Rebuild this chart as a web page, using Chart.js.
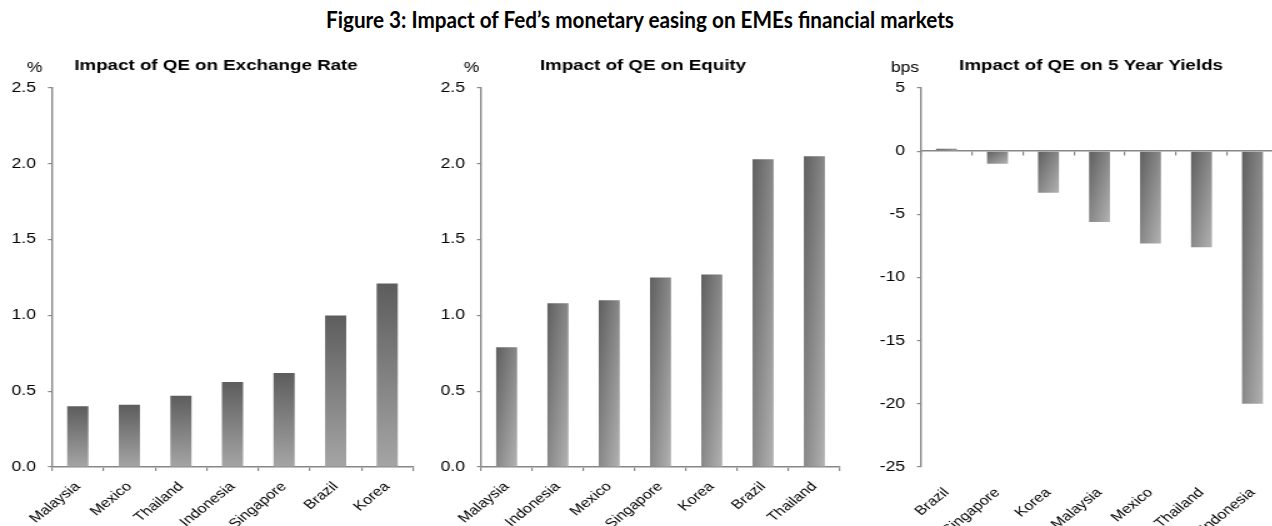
<!DOCTYPE html>
<html>
<head>
<meta charset="utf-8">
<script src="https://cdn.jsdelivr.net/npm/chart.js@4.4.1/dist/chart.umd.min.js"></script>
<style>
  body { margin: 0; width: 1272px; height: 526px; overflow: hidden; background: #fff; position: relative; }
  h1 {
    position: absolute; left: 640px; top: 5px; margin: 0; white-space: nowrap;
    transform: translateX(-50%) scaleX(0.9);
    font: bold 23px/28px Lato, 'Open Sans', sans-serif; color: #000;
  }
  /* the panels are laid out narrow and widened sideways */
  .panel { position: absolute; top: 0; transform-origin: 0 0; transform: scaleX(1.25); }
  .panel canvas { display: block; }
</style>
</head>
<body>
<h1>Figure 3: Impact of Fed’s monetary easing on EMEs financial markets</h1>
<div class="panel" style="left:0px"><canvas id="fxChart" width="336" height="526"></canvas></div>
<div class="panel" style="left:420px"><canvas id="equityChart" width="346" height="526"></canvas></div>
<div class="panel" style="left:840px"><canvas id="yieldChart" width="352" height="526"></canvas></div>
<script>
const fxCountries = ['Malaysia', 'Mexico', 'Thailand', 'Indonesia', 'Singapore', 'Brazil', 'Korea'];
const fxImpact = [0.40, 0.41, 0.47, 0.56, 0.62, 1.00, 1.21];

const equityCountries = ['Malaysia', 'Indonesia', 'Mexico', 'Singapore', 'Korea', 'Brazil', 'Thailand'];
const equityImpact = [0.79, 1.08, 1.10, 1.25, 1.27, 2.03, 2.05];

const yieldCountries = ['Brazil', 'Singapore', 'Korea', 'Malaysia', 'Mexico', 'Thailand', 'Indonesia'];
const yieldImpact = [0.2, -1.0, -3.3, -5.6, -7.3, -7.6, -20.0];

const pctTicks = [0, 0.5, 1.0, 1.5, 2.0, 2.5];
const bpsTicks = [-25, -20, -15, -10, -5, 0, 5];

const FONT = "'Liberation Sans', Arial, sans-serif";
const AXIS = '#878787';
const BAR_FRACTION = 0.41;

// grey fill per bar: 'vertical' = dark top to light bottom, 'diagonal' = dark top-left corner to light bottom-right
function shadeBars(direction) {
    return function(context) {
        const chart = context.chart;
        const xs = chart.scales.x;
        const ys = chart.scales.y;
        if (!chart.chartArea || !xs || !ys || typeof context.raw !== 'number') {
            return '#888888';
        }
        const half = xs.width / chart.data.labels.length * BAR_FRACTION / 2;
        const cx = xs.getPixelForValue(context.dataIndex);
        const left = cx - half;
        const yv = ys.getPixelForValue(context.raw);
        const y0 = ys.getPixelForValue(0);
        const top = Math.min(yv, y0);
        const bottom = Math.max(yv, y0);
        const w = half * 2;
        const h = Math.max(bottom - top, 1);
        let g;
        if (direction === 'vertical') {
            g = chart.ctx.createLinearGradient(0, top, 0, bottom);
            g.addColorStop(0, '#5d5d5d');
            g.addColorStop(1, '#a5a5a5');
        } else {
            const k = 2 * w * h / (w * w + h * h);
            g = chart.ctx.createLinearGradient(left, top, left + h * k, top + w * k);
            g.addColorStop(0, '#5f5f5f');
            g.addColorStop(1, '#b2b2b2');
        }
        return g;
    };
}

// panel heading and unit label above the value axis
const panelText = {
    id: 'panelText',
    afterDraw(chart, args, opts) {
        const ctx = chart.ctx;
        ctx.save();
        ctx.fillStyle = '#000';
        ctx.textAlign = 'center';
        ctx.textBaseline = 'alphabetic';
        ctx.font = 'bold 15px ' + FONT;
        ctx.fillText(opts.title, opts.titleX, 70);
        ctx.font = '14px ' + FONT;
        ctx.fillText(opts.unit, opts.unitX, 72);
        ctx.restore();
    }
};

function valueAxis(ticks, width, fmt) {
    return {
        min: ticks[0],
        max: ticks[ticks.length - 1],
        afterBuildTicks: scale => { scale.ticks = ticks.map(v => ({ value: v })); },
        afterFit: scale => {
            scale.width = width;
            scale.paddingTop = 0;
            scale.paddingBottom = 0;
        },
        grid: { drawOnChartArea: false, tickLength: 3.2, color: AXIS, lineWidth: 1.2 },
        border: { display: true, color: AXIS, width: 1.4 },
        ticks: { padding: 9.6, color: '#000', font: { family: FONT, size: 14 }, callback: fmt }
    };
}

// keep the plot width fixed: labels may hang over the panel edges
function fixHeight(h) {
    return scale => {
        scale.height = h;
        scale.paddingLeft = 0;
        scale.paddingRight = 0;
    };
}

function categoryAxis(padding, withLine) {
    return {
        offset: true,
        afterFit: fixHeight(59),
        grid: { display: withLine, drawOnChartArea: false, offset: true, tickLength: 4, color: AXIS, lineWidth: 1.2 },
        border: { display: withLine, color: AXIS, width: 1.6 },
        ticks: {
            autoSkip: false, minRotation: 45, maxRotation: 45, padding: padding,
            color: '#000', font: { family: FONT, size: 13 }
        }
    };
}

function makePanel(id, labels, values, cfg) {
    return new Chart(document.getElementById(id), {
        type: 'bar',
        data: {
            labels: labels,
            datasets: [{
                data: values,
                backgroundColor: shadeBars(cfg.shade),
                borderWidth: 0,
                barPercentage: BAR_FRACTION,
                categoryPercentage: 1
            }]
        },
        options: {
            responsive: false,
            animation: false,
            layout: { autoPadding: false, padding: { top: 88, left: 0, right: cfg.padRight, bottom: 0 } },
            plugins: {
                legend: { display: false },
                tooltip: { enabled: false },
                panelText: { title: cfg.title, titleX: cfg.titleX, unit: cfg.unit, unitX: cfg.unitX }
            },
            scales: cfg.scales
        },
        plugins: [panelText]
    });
}

makePanel('fxChart', fxCountries, fxImpact, {
    shade: 'vertical',
    title: 'Impact of QE on Exchange Rate', titleX: 172.8,
    unit: '%', unitX: 27.6,
    padRight: 5.6,
    scales: {
        x: categoryAxis(8, true),
        y: valueAxis(pctTicks, 41.6, v => v.toFixed(1))
    }
});

makePanel('equityChart', equityCountries, equityImpact, {
    shade: 'diagonal',
    title: 'Impact of QE on Equity', titleX: 178.4,
    unit: '%', unitX: 41.2,
    padRight: 10,
    scales: {
        x: categoryAxis(8, true),
        y: valueAxis(pctTicks, 48.8, v => v.toFixed(1))
    }
});

// yields: names sit at the bottom, the axis line itself runs along zero
makePanel('yieldChart', yieldCountries, yieldImpact, {
    shade: 'diagonal',
    title: 'Impact of QE on 5 Year Yields', titleX: 200.8,
    unit: 'bps', unitX: 52,
    padRight: 1.6,
    scales: {
        x: categoryAxis(14, false),
        x0: {
            type: 'category',
            position: { y: 0 },
            offset: true,
            afterFit: fixHeight(0),
            grid: { drawOnChartArea: false, offset: true, tickLength: 4, color: AXIS, lineWidth: 1.2 },
            border: { display: true, color: AXIS, width: 1.6 },
            ticks: { display: false }
        },
        y: valueAxis(bpsTicks, 64.8, v => String(v))
    }
});
</script>
</body>
</html>
